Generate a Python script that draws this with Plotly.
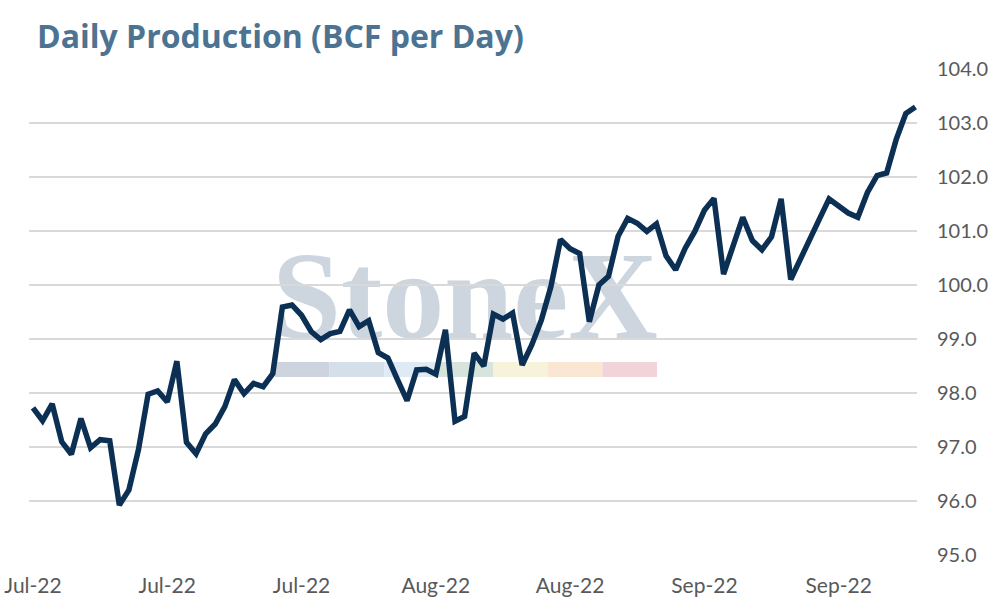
import pandas as pd
import plotly.graph_objects as go

# ---- data ----
start_date = "2022-07-01"
production = [
    97.73, 97.49, 97.80, 97.10, 96.87, 97.53, 96.99, 97.14, 97.12, 95.93,
    96.21, 96.96, 97.98, 98.04, 97.84, 98.59, 97.09, 96.88, 97.25, 97.43,
    97.75, 98.25, 97.99, 98.18, 98.12, 98.36, 99.59, 99.63, 99.44, 99.14,
    98.99, 99.10, 99.14, 99.54, 99.23, 99.34, 98.75, 98.65, 98.25, 97.86,
    98.43, 98.44, 98.35, 99.17, 97.48, 97.57, 98.74, 98.50, 99.46, 99.37,
    99.48, 98.52, 98.89, 99.35, 99.97, 100.84, 100.67, 100.58, 99.32, 100.00,
    100.16, 100.90, 101.23, 101.14, 100.99, 101.13, 100.54, 100.28, 100.68, 100.99,
    101.38, 101.60, 100.20, 100.74, 101.25, 100.82, 100.65, 100.89, 101.59, 100.10,
    100.49, 100.89, 101.22, 101.59, 101.47, 101.33, 101.25, 101.71, 102.02, 102.07,
    102.69, 103.17, 103.29,
]
dates = pd.date_range(start_date, periods=len(production), freq="D")
tick_labels = ["Jul-22", "Jul-22", "Jul-22", "Aug-22", "Aug-22", "Sep-22", "Sep-22"]
tick_dates = list(dates[::14][:len(tick_labels)])
y_ticks = [95.0 + i for i in range(10)]

# ---- layout geometry (pixels) ----
W, H = 998, 600
PL, PR, PT, PB = 29, 917, 68, 556  # plot area edges


def px(xp):
    return (xp - PL) / (PR - PL)


def py(yp):
    return (PB - yp) / (PB - PT)


fig = go.Figure()
fig.add_trace(go.Scatter(
    x=dates, y=production, mode="lines",
    line=dict(color="#0C3054", width=5.5),
    hoverinfo="x+y", showlegend=False,
))

# watermark bars
bar_colors = ["#CDD4DD", "#D5DFE9", "#DFEAF4", "#D6E4DB", "#F7F3DA", "#F9E6D3", "#F2D3D7"]
bx0, bx1 = 275, 657
seg = (bx1 - bx0) / len(bar_colors)
shapes = []
for i, c in enumerate(bar_colors):
    shapes.append(dict(type="rect", xref="paper", yref="paper",
                       x0=px(bx0 + i * seg), x1=px(bx0 + (i + 1) * seg),
                       y0=py(377), y1=py(362), fillcolor=c, line=dict(width=0),
                       layer="below"))
# watermark text
shapes.append(dict(type="rect", xref="paper", yref="paper",
                   x0=px(268), x1=px(662), y0=py(330), y1=py(235),
                   fillcolor="rgba(0,0,0,0)", line=dict(width=0), layer="below",
                   label=dict(text="StoneX", textposition="middle center",
                              font=dict(family="Liberation Serif", size=124,
                                        color="rgba(192,202,214,0.8)", weight="bold"))))

x_lo = dates[0] - pd.Timedelta(hours=10)
x_hi = dates[-1] + pd.Timedelta(hours=4)

fig.update_layout(
    width=W, height=H,
    margin=dict(l=PL, r=W - PR, t=PT, b=H - PB),
    paper_bgcolor="white", plot_bgcolor="white",
    title=dict(text="<b>Daily Production (BCF per Day)</b>", x=37 / W, xanchor="left",
               xref="container", y=1 - 37 / H, yanchor="middle", yref="container",
               font=dict(family="Open Sans", size=32, color="#4C7391")),
    shapes=shapes,
    xaxis=dict(type="date", range=[x_lo, x_hi], tickvals=tick_dates, ticktext=tick_labels,
               showgrid=False, zeroline=False, showline=False, ticks="",
               automargin=False,
               tickfont=dict(family="Lato", size=21, color="#595959"),
               ticklabelstandoff=15),
    yaxis=dict(side="right", range=[94.99, 104.01], tickvals=y_ticks,
               ticktext=[f"{v:.1f}" for v in y_ticks],
               showgrid=True, gridcolor="#D9D9D9", gridwidth=2, zeroline=False,
               showline=False, ticks="", automargin=False,
               tickfont=dict(family="Lato", size=20, color="#595959"),
               ticklabelstandoff=19),
)

fig.write_html("out.html", config={"displayModeBar": False},
               post_script="document.body.style.margin='0';")
